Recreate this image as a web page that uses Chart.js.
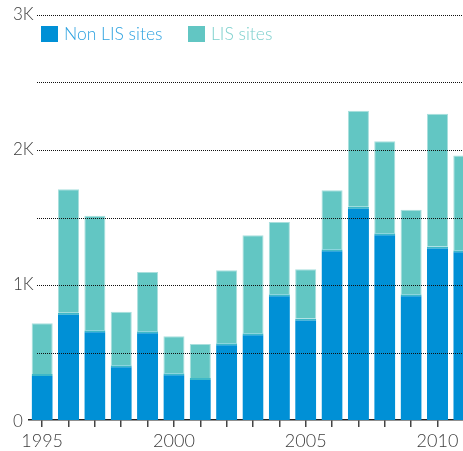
<!DOCTYPE html>
<html>
<head>
<meta charset="utf-8">
<script src="https://cdn.jsdelivr.net/npm/chart.js@4/dist/chart.umd.min.js"></script>
<style>
  html, body { margin: 0; padding: 0; background: #fff; overflow: hidden; width: 463px; height: 451px; }
  #wrap { position: relative; width: 477px; height: 451px; }
  #legend { position: absolute; left: 41px; top: 26px; font-family: Lato, sans-serif; font-weight: 300; font-size: 17.5px; }
  .item { position: absolute; top: 0; white-space: nowrap; }
  .sw { position: absolute; top: 0; width: 17px; height: 16px; }
  .lb { position: absolute; top: -3px; line-height: 22px; }
</style>
</head>
<body>
<div id="wrap">
  <canvas id="c" width="477" height="451"></canvas>
  <div id="legend"></div>
</div>
<script>
const years = [1995,1996,1997,1998,1999,2000,2001,2002,2003,2004,2005,2006,2007,2008,2009,2010,2011];
const nonLIS = [341,795,664,405,657,346,311,568,642,931,751,1264,1580,1383,931,1286,1257];
const lis    = [375,914,849,397,439,274,252,541,726,536,365,437,711,681,627,983,703];
const yTickValues = [0, 1000, 2000, 3000];
const yTickLabels = ['0', '1K', '2K', '3K'];
const seriesNames = ['Non LIS sites', 'LIS sites'];
const colors = ['#0090d6', '#62c6c3'];
const textColors = ['#2ea2e0', '#7dd0cd'];

// HTML legend
const leg = document.getElementById('legend');
const legX = [0, 147];
seriesNames.forEach((n, i) => {
  const it = document.createElement('div');
  it.className = 'item';
  it.style.left = legX[i] + 'px';
  it.innerHTML = '<div class="sw" style="background:' + colors[i] + '"></div><div class="lb" style="left:23px;color:' + textColors[i] + '">' + n + '</div>';
  leg.appendChild(it);
});

const dottedGrid = {
  id: 'dottedGrid',
  afterDatasetsDraw(chart) {
    const y = chart.scales.y;
    const ctx = chart.ctx;
    ctx.save();
    ctx.strokeStyle = '#111';
    ctx.lineWidth = 1;
    ctx.setLineDash([1, 1]);
    for (let v = 500; v <= 3000; v += 500) {
      const py = Math.round(y.getPixelForValue(v)) + 0.5;
      ctx.beginPath();
      ctx.moveTo(37, py);
      ctx.lineTo(chart.width, py);
      ctx.stroke();
    }
    ctx.setLineDash([]);
    ctx.fillStyle = '#3c3c3c';
    ctx.font = '300 17px Lato';
    ctx.textAlign = 'left';
    ctx.textBaseline = 'middle';
    yTickValues.forEach((v, i) => {
      ctx.fillText(yTickLabels[i], 13, y.getPixelForValue(v) + (v === 0 ? 2 : 0));
    });
    ctx.restore();
  }
};

new Chart(document.getElementById('c'), {
  type: 'bar',
  data: {
    labels: years.map(String),
    datasets: [
      { label: seriesNames[0], data: nonLIS, backgroundColor: colors[0],
        borderColor: '#3db8c8', borderWidth: {top: 2, left: 0, right: 0, bottom: 0}, borderSkipped: false },
      { label: seriesNames[1], data: lis, backgroundColor: colors[1],
        borderColor: '#a9dfdd', borderWidth: 1, borderSkipped: 'start' }
    ]
  },
  options: {
    responsive: false,
    animation: false,
    devicePixelRatio: 1,
    layout: { padding: { left: 13, top: 15, right: 0, bottom: 0 } },
    datasets: { bar: { categoryPercentage: 1, barPercentage: 0.8 } },
    plugins: { legend: { display: false }, tooltip: { enabled: false } },
    scales: {
      x: {
        stacked: true,
        grid: { display: true, drawOnChartArea: false, drawTicks: true, tickLength: 7, offset: false, color: '#444', lineWidth: 1.5 },
        border: { display: true, color: '#222', width: 1.5 },
        ticks: {
          autoSkip: false, maxRotation: 0, padding: 3, color: '#3c3c3c',
          font: { family: 'Lato', size: 18, weight: 300 },
          callback: function(v, i) { const yr = years[i]; return yr % 5 === 0 ? String(yr) : ''; }
        },
        afterFit: s => { s.height = 31; }
      },
      y: {
        stacked: true,
        min: 0, max: 3000,
        grid: { display: false },
        border: { display: false },
        ticks: { display: false },
        afterFit: s => { s.width = 16; }
      }
    }
  },
  plugins: [dottedGrid]
});
</script>
</body>
</html>
